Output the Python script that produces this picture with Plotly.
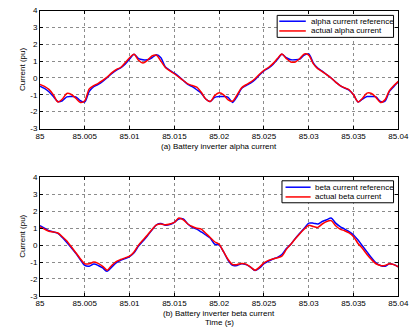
import plotly.graph_objects as go

W, H = 419, 333

# time samples in ms after 85 s
time_ms = [0, 0.5, 1, 1.5, 2, 2.5, 3, 3.5, 4, 4.5, 5, 5.5, 6, 6.5, 7, 7.5, 8, 8.5, 9, 9.5,
           10, 10.5, 11, 11.5, 12, 12.5, 13, 13.5, 14, 14.5, 15, 15.5, 16, 16.5, 17, 17.5, 18, 18.5, 19, 19.5,
           20, 20.5, 21, 21.5, 22, 22.5, 23, 23.5, 24, 24.5, 25, 25.5, 26, 26.5, 27, 27.5, 28, 28.5, 29, 29.5,
           30, 30.5, 31, 31.5, 32, 32.5, 33, 33.5, 34, 34.5, 35, 35.5, 36, 36.5, 37, 37.5, 38, 38.5, 39, 39.5, 40]

alpha_ref = [-0.48, -0.62, -0.82, -1.1, -1.4, -1.35, -1.12, -1.1, -1.12, -1.35,
             -1.42, -0.8, -0.52, -0.38, -0.2, 0.02, 0.25, 0.45, 0.6, 0.82,
             1.12, 1.4, 1.15, 1.08, 1.08, 1.2, 1.38, 1.2, 0.65, 0.45,
             0.28, 0.08, -0.15, -0.38, -0.52, -0.7, -0.9, -1.25, -1.4, -1.15,
             -1.1, -1.1, -1.15, -1.45, -1.1, -0.62, -0.45, -0.3, -0.1, 0.18,
             0.42, 0.58, 0.8, 1.1, 1.4, 1.2, 1.08, 1.08, 1.12, 1.35,
             1.42, 0.9, 0.58, 0.4, 0.2, 0.0, -0.25, -0.45, -0.6, -0.72,
             -1.0, -1.42, -1.25, -1.1, -1.1, -1.12, -1.4, -1.38, -0.8, -0.5, -0.23]

alpha_act = [-0.38, -0.5, -0.68, -1.0, -1.42, -1.25, -0.92, -0.98, -1.2, -1.45,
             -1.35, -0.65, -0.45, -0.32, -0.15, 0.05, 0.3, 0.5, 0.62, 0.9,
             1.2, 1.4, 1.05, 0.88, 1.05, 1.3, 1.35, 1.0, 0.62, 0.42,
             0.25, 0.05, -0.15, -0.35, -0.45, -0.55, -0.85, -1.25, -1.4, -1.05,
             -0.88, -1.0, -1.3, -1.38, -1.0, -0.58, -0.4, -0.25, -0.05, 0.22,
             0.45, 0.62, 0.85, 1.15, 1.42, 1.15, 0.95, 0.95, 1.15, 1.42,
             1.35, 0.85, 0.55, 0.38, 0.2, 0.0, -0.25, -0.45, -0.58, -0.7,
             -1.0, -1.42, -1.2, -0.9, -0.92, -1.15, -1.45, -1.3, -0.75, -0.45, -0.2]

beta_ref = [1.15, 1.0, 0.85, 0.78, 0.7, 0.45, 0.16, -0.15, -0.48, -0.85,
            -1.2, -1.25, -1.12, -1.2, -1.35, -1.55, -1.3, -1.05, -0.9, -0.8,
            -0.68, -0.45, -0.05, 0.25, 0.55, 0.9, 1.2, 1.28, 1.18, 1.22,
            1.35, 1.55, 1.55, 1.25, 1.05, 0.95, 0.78, 0.6, 0.42, 0.06,
            0.0, -0.4, -0.9, -1.2, -1.2, -1.1, -1.15, -1.3, -1.5, -1.35,
            -1.1, -0.95, -0.82, -0.72, -0.55, -0.2, 0.06, 0.4, 0.7, 1.0,
            1.3, 1.3, 1.25, 1.4, 1.5, 1.6, 1.3, 1.1, 0.95, 0.8,
            0.6, 0.3, -0.05, -0.4, -0.75, -1.05, -1.2, -1.25, -1.1, -1.15, -1.28]

beta_act = [1.08, 0.95, 0.82, 0.78, 0.72, 0.5, 0.24, -0.1, -0.45, -0.8,
            -1.1, -1.1, -1.0, -1.08, -1.25, -1.48, -1.2, -0.97, -0.85, -0.75,
            -0.65, -0.4, 0.0, 0.3, 0.6, 0.92, 1.2, 1.25, 1.2, 1.25,
            1.35, 1.6, 1.5, 1.25, 1.1, 1.0, 0.95, 0.7, 0.45, 0.2,
            0.05, -0.4, -0.85, -1.15, -1.15, -1.08, -1.12, -1.3, -1.48, -1.3,
            -1.05, -0.9, -0.82, -0.75, -0.65, -0.25, 0.05, 0.38, 0.68, 0.95,
            1.18, 1.1, 1.05, 1.25, 1.4, 1.45, 1.15, 0.95, 0.85, 0.72,
            0.5, 0.1, -0.2, -0.55, -0.85, -1.1, -1.2, -1.2, -1.1, -1.15, -1.28]

x_tick_vals = [85, 85.005, 85.01, 85.015, 85.02, 85.025, 85.03, 85.035, 85.04]
x_tick_text = ["85", "85.005", "85.01", "85.015", "85.02", "85.025", "85.03", "85.035", "85.04"]
y_tick_vals = [-3, -2, -1, 0, 1, 2, 3, 4]
y_tick_text = ["-3", "-2", "-1", "0", "1", "2", "3", "4"]

legend_top = ["alpha current reference", "actual alpha current"]
legend_bot = ["beta current reference", "actual beta current"]
x_title_top = "(a) Battery inverter alpha current"
x_title_bot = "(b) Battery inverter beta current"
time_title = "Time (s)"
y_title = "Current (pu)"

t = [85 + v / 1000.0 for v in time_ms]
BLUE, RED = "#0000ff", "#ff0000"
FONT = "Liberation Sans, Arial, sans-serif"

fig = go.Figure()
fig.add_trace(go.Scatter(x=t, y=alpha_ref, mode="lines", line=dict(color=BLUE, width=1.5, shape="spline", smoothing=0.8),
                         xaxis="x", yaxis="y", showlegend=False))
fig.add_trace(go.Scatter(x=t, y=alpha_act, mode="lines", line=dict(color=RED, width=1.5, shape="spline", smoothing=0.8),
                         xaxis="x", yaxis="y", showlegend=False))
fig.add_trace(go.Scatter(x=t, y=beta_ref, mode="lines", line=dict(color=BLUE, width=1.5, shape="spline", smoothing=0.8),
                         xaxis="x2", yaxis="y2", showlegend=False))
fig.add_trace(go.Scatter(x=t, y=beta_act, mode="lines", line=dict(color=RED, width=1.5, shape="spline", smoothing=0.8),
                         xaxis="x2", yaxis="y2", showlegend=False))

def px(x):
    return x / W

def py(y):
    return 1 - y / H

xdom = [px(37.3), px(409)]
ax_common = dict(showline=True, linecolor="black", linewidth=1, mirror="ticks", ticks="inside", ticklen=3,
                 tickcolor="black", showgrid=True, gridcolor="#8c8c8c", griddash="dot", gridwidth=1,
                 zeroline=False, tickfont=dict(family=FONT, size=8, color="black"))

fig.update_layout(
    width=W, height=H, margin=dict(l=0, r=0, t=0, b=0),
    paper_bgcolor="white", plot_bgcolor="white",
    font=dict(family=FONT, size=8, color="black"),
    xaxis=dict(domain=xdom, anchor="y", range=[85, 85.04], tickvals=x_tick_vals, ticktext=x_tick_text,
               ticklabeloverflow="allow", **ax_common),
    yaxis=dict(domain=[py(128), py(6.7)], anchor="x", range=[-3, 4], tickvals=y_tick_vals, ticktext=y_tick_text, **ax_common),
    xaxis2=dict(domain=xdom, anchor="y2", range=[85, 85.04], tickvals=x_tick_vals, ticktext=x_tick_text,
                ticklabeloverflow="allow", **ax_common),
    yaxis2=dict(domain=[py(300), py(178.3)], anchor="x2", range=[-3, 4], tickvals=y_tick_vals, ticktext=y_tick_text, **ax_common),
)

shapes = []
annotations = []

def add_legend(box, y_lines, x_line, x_text, labels):
    x0, y0, x1, y1 = box
    shapes.append(dict(type="rect", xref="paper", yref="paper", x0=px(x0), x1=px(x1), y0=py(y1), y1=py(y0),
                       line=dict(color="black", width=1), fillcolor="white", layer="above"))
    for yl, col, lab in zip(y_lines, [BLUE, RED], labels):
        shapes.append(dict(type="line", xref="paper", yref="paper", x0=px(x_line[0]), x1=px(x_line[1]),
                           y0=py(yl), y1=py(yl), line=dict(color=col, width=1.5), layer="above"))
        annotations.append(dict(text=lab, xref="paper", yref="paper", x=px(x_text), y=py(yl),
                                xanchor="left", yanchor="middle", showarrow=False,
                                font=dict(family=FONT, size=8, color="black")))

add_legend((283.3, 11.7, 404, 34.3), (17.7, 27.7), (285.5, 313), 316.5, legend_top)
add_legend((288.3, 181.7, 404, 204.3), (188.3, 198.3), (292, 318), 320.5, legend_bot)

for txt, x, y in [(x_title_top, 223, 146), (x_title_bot, 223, 318), (time_title, 223, 327)]:
    annotations.append(dict(text=txt, xref="paper", yref="paper", x=px(x), y=py(y), xanchor="center",
                            yanchor="middle", showarrow=False, font=dict(family=FONT, size=8, color="black")))
for y in [67.5, 239]:
    annotations.append(dict(text=y_title, xref="paper", yref="paper", x=px(19), y=py(y), xanchor="center",
                            yanchor="middle", showarrow=False, textangle=-90,
                            font=dict(family=FONT, size=8, color="black")))

fig.update_layout(shapes=shapes, annotations=annotations)
fig.write_html("out.html")
